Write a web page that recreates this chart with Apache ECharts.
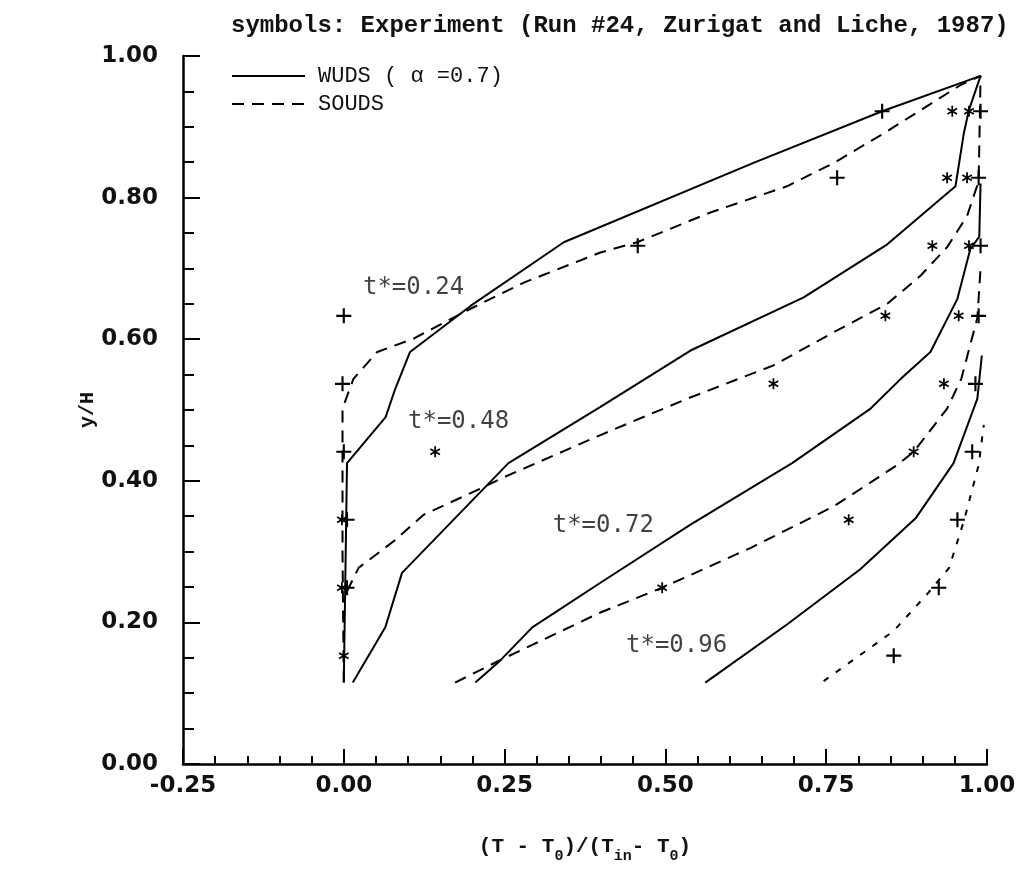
<!DOCTYPE html>
<html>
<head>
<meta charset="utf-8">
<script src="https://cdn.jsdelivr.net/npm/echarts@6/dist/echarts.min.js"></script>
<style>
html,body{margin:0;padding:0;background:#fff;}
#chart{width:1035px;height:869px;}
</style>
</head>
<body>
<div id="chart"></div>
<script>
// ---- tick labels / axis ranges ----
const xTicks = [-0.25, 0.00, 0.25, 0.50, 0.75, 1.00];
const yTicks = [0.00, 0.20, 0.40, 0.60, 0.80, 1.00];

// ---- model curves: WUDS (alpha = 0.7), solid ----
const wuds024 = [[0.0,0.115],[0.005,0.425],[0.065,0.49],[0.08,0.53],[0.103,0.582],[0.197,0.647],[0.342,0.737],[0.637,0.849],[0.837,0.922],[0.99,0.972]];
const wuds048 = [[0.014,0.115],[0.0645,0.193],[0.0905,0.27],[0.256,0.425],[0.399,0.5045],[0.539,0.584],[0.715,0.659],[0.845,0.734],[0.951,0.816],[0.964,0.891],[0.972,0.924],[0.99,0.972]];
const wuds072 = [[0.2045,0.115],[0.243,0.146],[0.293,0.193],[0.399,0.256],[0.539,0.338],[0.697,0.425],[0.819,0.502],[0.866,0.544],[0.912,0.582],[0.954,0.657],[0.974,0.727],[0.988,0.745],[0.99,0.82]];
const wuds096 = [[0.562,0.115],[0.689,0.197],[0.803,0.275],[0.889,0.347],[0.948,0.425],[0.985,0.516],[0.992,0.577]];

// ---- model curves: SOUDS, dashed ----
const souds024 = [[0.0,0.115],[-0.002,0.30],[-0.002,0.502],[0.015,0.544],[0.052,0.582],[0.109,0.601],[0.197,0.643],[0.28,0.68],[0.399,0.7225],[0.456,0.737],[0.57,0.779],[0.689,0.816],[0.762,0.849],[0.84,0.891],[0.959,0.959],[0.99,0.972]];
const souds048 = [[0.005,0.244],[0.023,0.277],[0.078,0.315],[0.124,0.352],[0.215,0.39],[0.249,0.405],[0.399,0.4646],[0.534,0.516],[0.668,0.563],[0.762,0.61],[0.845,0.65],[0.897,0.69],[0.938,0.73],[0.969,0.774],[0.987,0.823],[0.99,0.972]];
const souds072 = [[0.173,0.115],[0.246,0.148],[0.311,0.176],[0.399,0.214],[0.495,0.249],[0.632,0.305],[0.762,0.364],[0.86,0.422],[0.886,0.441],[0.938,0.502],[0.96,0.544],[0.969,0.575],[0.985,0.63],[0.99,0.70]];
const souds096 = [[0.746,0.117],[0.855,0.188],[0.907,0.24],[0.941,0.277],[0.964,0.343],[0.987,0.422],[0.995,0.479]];

// ---- experiment (Run #24): measuring heights and temperatures ----
const expLevels = [0.922, 0.828, 0.732, 0.633, 0.537, 0.441, 0.345, 0.249, 0.153];
const exp024 = [0.837, 0.767, 0.457, 0.0, -0.002, 0.0, 0.005, 0.005];
const exp048 = [0.946, 0.938, 0.915, 0.842, 0.668, 0.142, -0.003, -0.003, 0.0];
const exp072 = [0.972, 0.969, 0.972, 0.956, 0.933, 0.886, 0.785, 0.495];
const exp096 = [0.99, 0.987, 0.99, 0.987, 0.982, 0.977, 0.954, 0.925, 0.855];

// ---- curve annotations ----
const curveLabels = ['t*=0.24', 't*=0.48', 't*=0.72', 't*=0.96'];
const curveLabelAt = [[0.029,0.672],[0.099,0.484],[0.324,0.336],[0.438,0.167]];

const WUDS = 'WUDS ( \u03b1 =0.7)';
const SOUDS = 'SOUDS';

const plusPath = 'path://M-1,-7L1,-7L1,-1L7,-1L7,1L1,1L1,7L-1,7L-1,1L-7,1L-7,-1L-1,-1Z';
const starPath = 'path://M-0.8,-5L0.8,-5L0.8,5L-0.8,5Z M3.93,-3.193L4.73,-1.807L-3.93,3.193L-4.73,1.807Z M4.73,1.807L3.93,3.193L-4.73,-1.807L-3.93,-3.193Z';

function pts(xs){ return xs.map((x,i)=>[x, expLevels[i]]); }

function lineSeries(name, data, dashed, dash){
  return {
    name: name, type: 'line', data: data, symbol: 'none', smooth: false,
    itemStyle: { color: '#000' },
    lineStyle: { color: '#000', width: 2, type: dashed ? (dash || [12, 8]) : 'solid' },
    silent: true, z: 2
  };
}
function markSeries(data, sym, size){
  return {
    name: 'exp', type: 'scatter', data: data, symbol: sym, symbolSize: size,
    symbolKeepAspect: true, itemStyle: { color: '#000', opacity: 1 }, z: 3, silent: true
  };
}

const mono = 'Liberation Mono';
const chart = echarts.init(document.getElementById('chart'), null, { renderer: 'canvas' });
chart.setOption({
  animation: false,
  backgroundColor: '#fff',
  title: {
    text: 'symbols: Experiment (Run #24, Zurigat and Liche, 1987)',
    left: 226, top: 9,
    textStyle: { fontFamily: mono, fontSize: 24, fontWeight: 'bold', color: '#111' }
  },
  legend: {
    data: [WUDS, SOUDS],
    orient: 'vertical', left: 226, top: 60,
    itemWidth: 73, itemHeight: 14, itemGap: 6,
    itemStyle: { color: 'rgba(0,0,0,0)', borderWidth: 0, opacity: 0 },
    lineStyle: { color: '#000', width: 2 },
    textStyle: { fontFamily: mono, fontSize: 22, color: '#111', padding: [0, 0, 0, 8] },
    selectedMode: false
  },
  grid: { left: 183, right: 48, top: 56, bottom: 102, containLabel: false },
  xAxis: {
    type: 'value', min: xTicks[0], max: xTicks[xTicks.length - 1], interval: 0.25,
    name: '(T - T{s|0})/(T{s|in}- T{s|0})', nameLocation: 'middle', nameGap: 66,
    nameTextStyle: {
      fontFamily: mono, fontSize: 21, fontWeight: 'bold', color: '#111',
      rich: { s: { fontFamily: mono, fontSize: 15, fontWeight: 'bold', color: '#111', lineHeight: 34, verticalAlign: 'bottom' } }
    },
    axisLine: { show: true, onZero: false, lineStyle: { color: '#000', width: 2.5 } },
    axisTick: { show: true, inside: true, length: 15, lineStyle: { color: '#000', width: 2 } },
    minorTick: { show: true, splitNumber: 5, length: 8, lineStyle: { color: '#000', width: 2 } },
    splitLine: { show: false },
    axisLabel: {
      margin: 11, color: '#111', fontFamily: 'DejaVu Sans', fontWeight: 'bold', fontSize: 23,
      formatter: v => v.toFixed(2)
    }
  },
  yAxis: {
    type: 'value', min: yTicks[0], max: yTicks[yTicks.length - 1], interval: 0.2,
    name: 'y/H', nameLocation: 'middle', nameGap: 85, nameRotate: 90, nameMoveOverlap: false,
    nameTextStyle: { fontFamily: mono, fontSize: 20, fontWeight: 'bold', color: '#111' },
    axisLine: { show: true, onZero: false, lineStyle: { color: '#000', width: 2.5 } },
    axisTick: { show: true, inside: true, length: 17, lineStyle: { color: '#000', width: 2 } },
    minorTick: { show: true, splitNumber: 4, length: 11, lineStyle: { color: '#000', width: 2 } },
    splitLine: { show: false },
    axisLabel: {
      margin: 25, color: '#111', fontFamily: 'DejaVu Sans', fontWeight: 'bold', fontSize: 23,
      formatter: v => v.toFixed(2)
    }
  },
  series: [
    lineSeries(WUDS, wuds024, false),
    lineSeries(WUDS, wuds048, false),
    lineSeries(WUDS, wuds072, false),
    lineSeries(WUDS, wuds096, false),
    lineSeries(SOUDS, souds024, true),
    lineSeries(SOUDS, souds048, true),
    lineSeries(SOUDS, souds072, true),
    lineSeries(SOUDS, souds096, true, [6, 9]),
    markSeries(pts(exp024), plusPath, 15),
    markSeries(pts(exp048), starPath, 11),
    markSeries(pts(exp072), starPath, 11),
    markSeries(pts(exp096), plusPath, 15),
    {
      name: 'labels', type: 'scatter', symbolSize: 1, silent: true, z: 4,
      itemStyle: { color: 'rgba(0,0,0,0)' },
      data: curveLabelAt.map((p, i) => ({ value: p, name: curveLabels[i] })),
      label: {
        show: true, position: 'right', distance: 0,
        formatter: p => p.name,
        fontFamily: 'DejaVu Sans Mono', fontSize: 24, color: '#111'
      }
    }
  ]
});
</script>
</body>
</html>
